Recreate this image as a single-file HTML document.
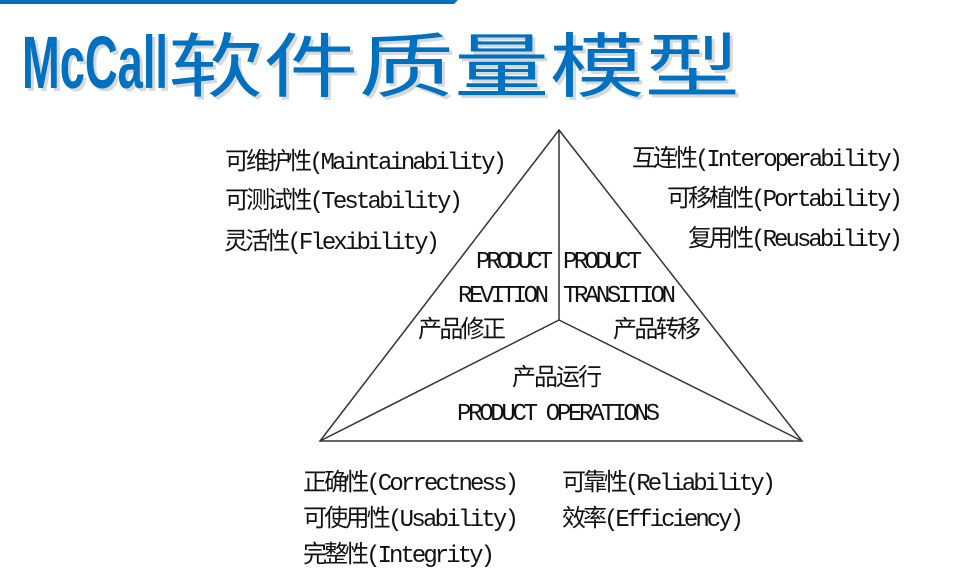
<!DOCTYPE html>
<html><head><meta charset="utf-8"><style>
html,body{margin:0;padding:0;background:#fff;}
svg{display:block}
</style></head><body>
<svg width="954" height="571" xmlns="http://www.w3.org/2000/svg">
<polygon points="0,0 458,0 454,4 0,4" fill="#0070c0"/>
<g fill="#d8d8d8" transform="translate(3,3)">
<text x="22" y="88" font-family="Liberation Sans, sans-serif" font-weight="bold" font-size="74" textLength="146" lengthAdjust="spacingAndGlyphs">McCall</text>
<text x="168" y="91" font-family="Liberation Sans, Noto Sans CJK SC, sans-serif" font-size="70" textLength="572" lengthAdjust="spacingAndGlyphs">软件质量模型</text>
</g>
<text x="22" y="88" fill="#0070c0" font-family="Liberation Sans, sans-serif" font-weight="bold" font-size="74" textLength="146" lengthAdjust="spacingAndGlyphs">McCall</text>
<text x="168" y="91" fill="#0070c0" font-family="Liberation Sans, Noto Sans CJK SC, sans-serif" font-size="70" textLength="572" lengthAdjust="spacingAndGlyphs">软件质量模型</text>

<g stroke="#333" stroke-width="1.5" fill="none">
<polygon points="559,130 320,441 802,441"/>
<line x1="559" y1="130" x2="559" y2="320"/>
<line x1="559" y1="320" x2="320" y2="441"/>
<line x1="559" y1="320" x2="802" y2="441"/>
</g>
<g font-family="Liberation Mono, Noto Sans CJK SC, monospace" font-size="24" fill="#111" lengthAdjust="spacingAndGlyphs">
<text x="225" y="169" textLength="282">可维护性(Maintainability)</text>
<text x="225" y="208" textLength="238">可测试性(Testability)</text>
<text x="224" y="249" textLength="216">灵活性(Flexibility)</text>
<text x="632" y="166" textLength="271">互连性(Interoperability)</text>
<text x="667" y="206" textLength="236">可移植性(Portability)</text>
<text x="688" y="246" textLength="215">复用性(Reusability)</text>
<text x="476" y="268" textLength="77">PRODUCT</text>
<text x="563" y="268" textLength="79">PRODUCT</text>
<text x="458" y="302" textLength="91">REVITION</text>
<text x="563" y="302" textLength="113">TRANSITION</text>
<text x="418" y="337" textLength="88">产品修正</text>
<text x="613" y="337" textLength="88">产品转移</text>
<text x="512" y="385" textLength="90">产品运行</text>
<text x="457" y="420" textLength="203">PRODUCT OPERATIONS</text>
<text x="303" y="490" textLength="216">正确性(Correctness)</text>
<text x="562" y="490" textLength="214">可靠性(Reliability)</text>
<text x="303" y="526" textLength="216">可使用性(Usability)</text>
<text x="562" y="526" textLength="182">效率(Efficiency)</text>
<text x="303" y="562" textLength="192">完整性(Integrity)</text>
</g>
</svg>
</body></html>
